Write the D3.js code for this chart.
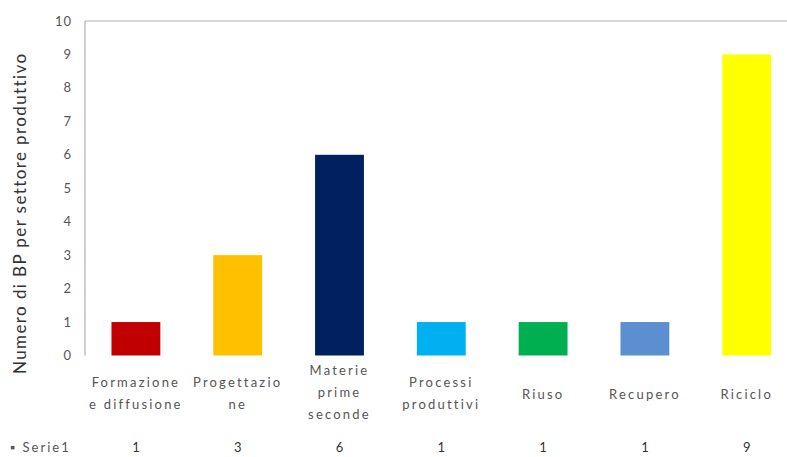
<!DOCTYPE html>
<html>
<head>
<meta charset="utf-8">
<script src="https://cdn.jsdelivr.net/npm/d3@7"></script>
<style>
  body { margin: 0; background: #fff; }
  svg { display: block; }
</style>
</head>
<body>
<svg id="chart"></svg>
<script>
// chart data
const categories = ["Formazione e diffusione", "Progettazione", "Materie prime seconde",
                    "Processi produttivi", "Riuso", "Recupero", "Riciclo"];
const catLines = [["Formazione", "e diffusione"], ["Progettazio", "ne"], ["Materie", "prime", "seconde"],
                  ["Processi", "produttivi"], ["Riuso"], ["Recupero"], ["Riciclo"]];
const values = [1, 3, 6, 1, 1, 1, 9];
const barColors = ["#c00000", "#ffc000", "#002060", "#00b0f0", "#00b050", "#5b8fd0", "#ffff00"];
const yTicks = [0, 1, 2, 3, 4, 5, 6, 7, 8, 9, 10];

const width = 787, height = 457;
const margin = {top: 21, left: 85, bottom: 101};

const svg = d3.select("#chart")
    .attr("width", width)
    .attr("height", height)
    .attr("font-family", "Lato, 'Open Sans', sans-serif");

const x = d3.scaleBand()
    .domain(categories)
    .range([margin.left, margin.left + 7 * 101.8])
    .paddingInner(0.52)
    .paddingOuter(0.26);

const y = d3.scaleLinear()
    .domain([0, 10])
    .range([height - margin.bottom - 0.5, margin.top]);

// plot frame: left and top lines
svg.append("line")
    .attr("x1", margin.left).attr("x2", margin.left)
    .attr("y1", y(10)).attr("y2", y(0))
    .attr("stroke", "#b0b0b0").attr("stroke-width", 1.2);
svg.append("line")
    .attr("x1", margin.left).attr("x2", width)
    .attr("y1", y(10)).attr("y2", y(10))
    .attr("stroke", "#b0b0b0").attr("stroke-width", 1.2);

// y tick labels
svg.append("g")
    .selectAll("text")
    .data(yTicks)
    .join("text")
    .attr("x", 72)
    .attr("y", d => y(d))
    .attr("dy", "0.35em")
    .attr("text-anchor", "end")
    .attr("font-size", 13)
    .attr("letter-spacing", 1)
    .attr("fill", "#555")
    .text(d => d);

// y axis title
svg.append("text")
    .attr("transform", `translate(26,${(y(0) + y(10)) / 2 + 25}) rotate(-90)`)
    .attr("text-anchor", "middle")
    .attr("font-size", 17)
    .attr("letter-spacing", 1.4)
    .attr("fill", "#333")
    .text("Numero di BP per settore produttivo");

// bars
svg.append("g")
    .selectAll("rect")
    .data(values)
    .join("rect")
    .attr("x", (d, i) => x(categories[i]))
    .attr("y", d => y(d))
    .attr("width", x.bandwidth())
    .attr("height", d => y(0) - y(d))
    .attr("fill", (d, i) => barColors[i]);

// category labels
const cat = svg.append("g")
    .selectAll("text")
    .data(catLines)
    .join("text")
    .attr("x", (d, i) => x(categories[i]) + x.bandwidth() / 2)
    .attr("y", d => d.length === 3 ? 375 : (d.length === 2 ? 387 : 399))
    .attr("text-anchor", "middle")
    .attr("font-size", 13)
    .attr("letter-spacing", 2.2)
    .attr("fill", "#555");
cat.selectAll("tspan")
    .data(d => d)
    .join("tspan")
    .attr("x", function() { return d3.select(this.parentNode).attr("x"); })
    .attr("dy", (d, i) => i === 0 ? 0 : 22)
    .text(d => d);

// data table row
svg.append("text")
    .attr("x", 10)
    .attr("y", 452)
    .attr("font-size", 13)
    .attr("letter-spacing", 2)
    .attr("fill", "#555")
    .text("\u25aa Serie1");
svg.append("g")
    .selectAll("text")
    .data(values)
    .join("text")
    .attr("x", (d, i) => x(categories[i]) + x.bandwidth() / 2)
    .attr("y", 452)
    .attr("text-anchor", "middle")
    .attr("font-size", 13)
    .attr("fill", "#333")
    .text(d => d);
</script>
</body>
</html>
